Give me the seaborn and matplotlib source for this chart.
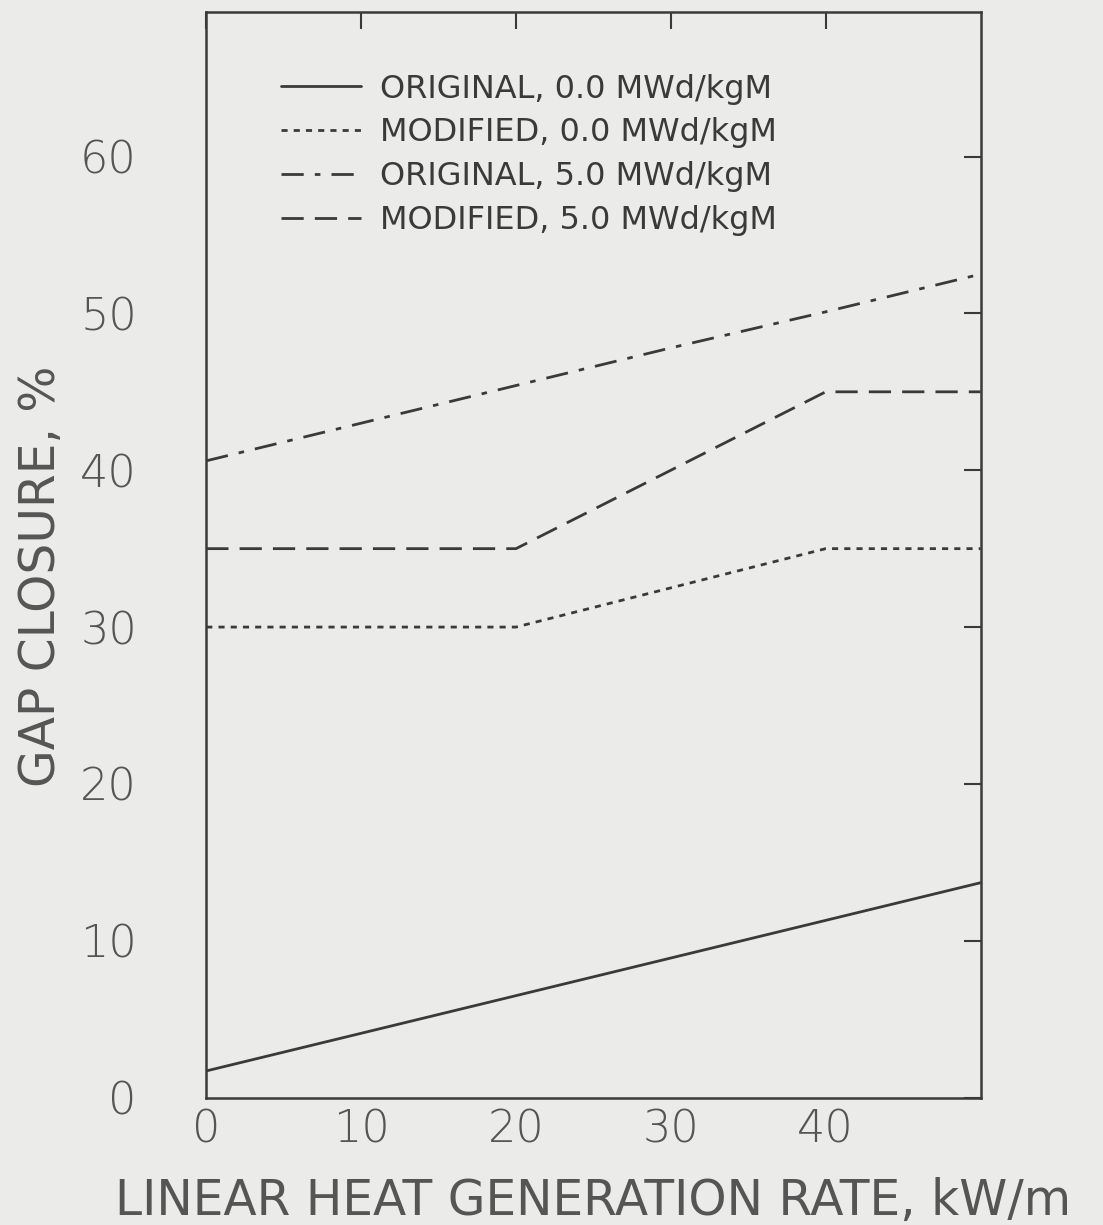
import matplotlib
matplotlib.use("Agg")
import matplotlib.pyplot as plt
import seaborn as sns
import pandas as pd

# heat rate, kW/m
rate = [0, 10, 20, 30, 40, 50]
orig_0 = [1.7, 4.1, 6.5, 8.9, 11.3, 13.7]
mod_0 = [30.0, 30.0, 30.0, 32.5, 35.0, 35.0]
orig_5 = [40.6, 43.0, 45.4, 47.8, 50.1, 52.5]
mod_5 = [35.0, 35.0, 35.0, 40.0, 45.0, 45.0]

labels = ["ORIGINAL, 0.0 MWd/kgM", "MODIFIED, 0.0 MWd/kgM",
          "ORIGINAL, 5.0 MWd/kgM", "MODIFIED, 5.0 MWd/kgM"]
series = [orig_0, mod_0, orig_5, mod_5]

rows = []
for lab, vals in zip(labels, series):
    for x, y in zip(rate, vals):
        rows.append({"rate": x, "gap": y, "case": lab})
df = pd.DataFrame(rows)

bg = "#ebebe9"
ink = "#3a3a3a"

sns.set_style("white")
plt.rcParams['font.family'] = ['DejaVu Sans']

fig = plt.figure(figsize=(11.03, 12.25), dpi=100, facecolor=bg)
ax = fig.add_axes([0.187, 0.104, 0.702, 0.886])
ax.set_facecolor(bg)

dashes = {
    labels[0]: "",
    labels[1]: (2.2, 2.2),
    labels[2]: (8, 4, 2, 4),
    labels[3]: (8, 4),
}
sns.lineplot(data=df, x="rate", y="gap", style="case", dashes=dashes,
             color=ink, linewidth=2.0, ax=ax, legend=True)

ax.set_xlim(0, 50)
ax.set_ylim(0, 69.2)
ax.set_xticks([0, 10, 20, 30, 40])
ax.set_yticks([0, 10, 20, 30, 40, 50, 60])
ax.tick_params(direction="in", length=12, width=1.5, color=ink,
               top=True, right=True, labelcolor="#555555", labelsize=32)
ax.tick_params(axis="y", pad=50)
ax.tick_params(axis="x", pad=8)
for lab in ax.get_yticklabels() + ax.get_xticklabels():
    lab.set_fontweight("light")
for sp in ax.spines.values():
    sp.set_color(ink)
    sp.set_linewidth(1.8)

ax.set_xlabel("LINEAR HEAT GENERATION RATE, kW/m", fontsize=35,
              color="#555555", labelpad=18)
ax.set_ylabel("GAP CLOSURE, %", fontsize=35, color="#555555")
ax.yaxis.set_label_coords(-0.183, 0.48)

handles, _ = ax.get_legend_handles_labels()
leg = ax.legend(handles[-4:], labels, loc="upper left", frameon=False,
                bbox_to_anchor=(0.06, 0.97), handlelength=2.5,
                handletextpad=0.6, labelspacing=0.4,
                prop={"size": 23})
for t in leg.get_texts():
    t.set_color(ink)

fig.savefig("out.png", dpi=100, facecolor=bg)
